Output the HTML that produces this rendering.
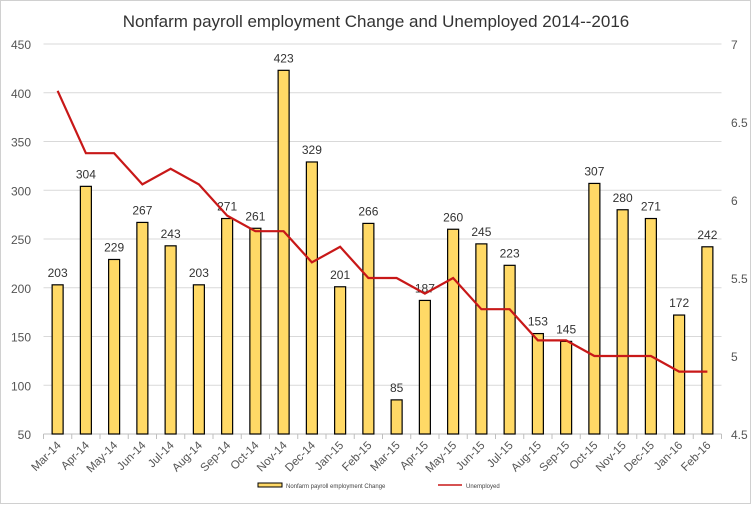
<!DOCTYPE html>
<html><head><meta charset="utf-8"><style>
html,body{margin:0;padding:0;background:#fff}
svg{display:block;font-family:"Liberation Sans",sans-serif}
</style></head><body>
<svg width="752" height="505" viewBox="0 0 752 505" xmlns="http://www.w3.org/2000/svg">
<rect x="0.5" y="0.5" width="750" height="503" fill="#fff" stroke="#d0d0d0"/>
<text x="376" y="27" text-anchor="middle" font-size="17" fill="#333">Nonfarm payroll employment Change and Unemployed 2014--2016</text>
<g id="g"></g>
<script>
(function(){
var g=document.getElementById('g'),ns='http://www.w3.org/2000/svg';
function el(t,a,txt){var e=document.createElementNS(ns,t);for(var k in a)e.setAttribute(k,a[k]);if(txt!==undefined)e.textContent=txt;g.appendChild(e);return e;}
var L=43.5,S=28.25,R=L+24*S,T=44,B=434;
function yl(v){return B-(v-50)*(B-T)/400;}
function yr(v){return B-(v-4.5)*(B-T)/2.5;}
for(var v=50;v<=450;v+=50){var y=yl(v);if(v>50)el('line',{x1:L,x2:R,y1:y,y2:y,stroke:'#d9d9d9','stroke-width':1});el('text',{x:31,y:y+5,'text-anchor':'end','font-size':12,fill:'#555'},v);}
['4.5','5','5.5','6','6.5','7'].forEach(function(s){var y=yr(parseFloat(s));el('text',{x:731,y:y+5,'font-size':12,fill:'#555'},s);});
el('line',{x1:L,x2:R,y1:B,y2:B,stroke:'#bfbfbf'});
var cats=['Mar-14','Apr-14','May-14','Jun-14','Jul-14','Aug-14','Sep-14','Oct-14','Nov-14','Dec-14','Jan-15','Feb-15','Mar-15','Apr-15','May-15','Jun-15','Jul-15','Aug-15','Sep-15','Oct-15','Nov-15','Dec-15','Jan-16','Feb-16'];
var b=[203,304,229,267,243,203,271,261,423,329,201,266,85,187,260,245,223,153,145,307,280,271,172,242];
var u=[6.7,6.3,6.3,6.1,6.2,6.1,5.9,5.8,5.8,5.6,5.7,5.5,5.5,5.4,5.5,5.3,5.3,5.1,5.1,5.0,5.0,5.0,4.9,4.9];
for(var i=0;i<=24;i++){var x=L+i*S;el('line',{x1:x,x2:x,y1:B,y2:B+5,stroke:'#bfbfbf'});}
var pts=[];
for(var i=0;i<24;i++){var c=L+(i+.5)*S,y=yl(b[i]);
el('rect',{x:c-5.5,y:y,width:11,height:B-y,fill:'#FFD966',stroke:'#000','stroke-width':1.2});
el('text',{x:c,y:y-8,'text-anchor':'middle','font-size':12,fill:'#333'},b[i]);
el('text',{x:0,y:0,'text-anchor':'end','font-size':11.5,fill:'#555',transform:'translate('+(c+4)+','+(B+12)+') rotate(-45)'},cats[i]);
pts.push(c+','+yr(u[i]));}
el('polyline',{points:pts.join(' '),fill:'none',stroke:'#c81818','stroke-width':2.2});
el('rect',{x:258,y:483,width:24,height:4,fill:'#FFD966',stroke:'#000','stroke-width':1});
el('text',{x:286,y:488,'font-size':6,fill:'#444'},'Nonfarm payroll employment Change');
el('line',{x1:438,x2:462,y1:485,y2:485,stroke:'#c81818','stroke-width':1.5});
el('text',{x:466,y:488,'font-size':6,fill:'#444'},'Unemployed');
})();
</script>
</svg>
</body></html>
